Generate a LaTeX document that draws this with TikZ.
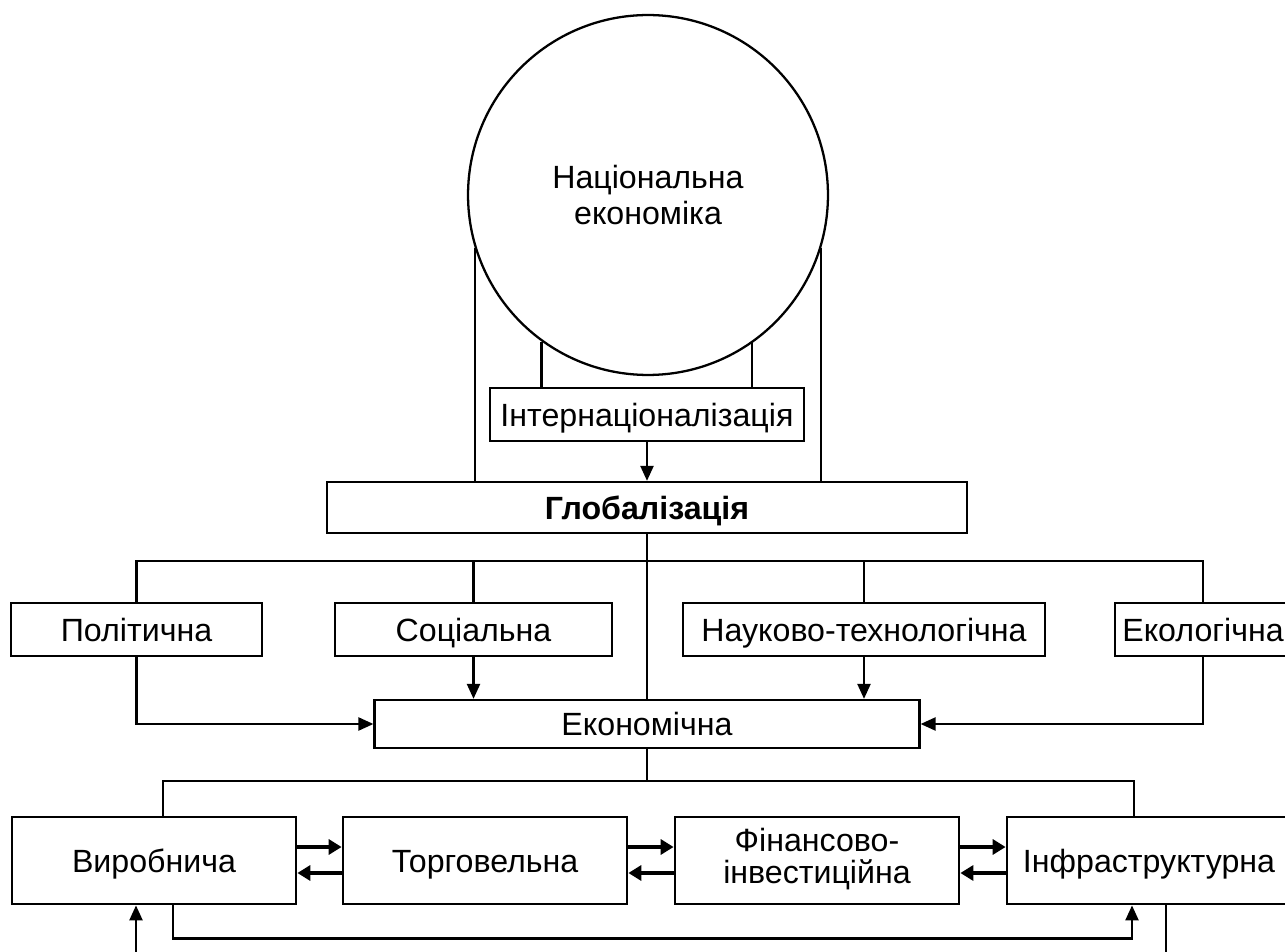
\documentclass[tikz,border=0pt]{standalone}
\usepackage{fontspec}
\setmainfont{Liberation Sans}
\usetikzlibrary{arrows.meta,positioning}

\begin{document}
\begin{tikzpicture}[x=0.02cm,y=-0.02cm,every node/.style={font=\fontsize{18.3}{21}\selectfont},box/.style={rectangle,draw=black,line width=1.3pt,inner sep=0pt,align=center,minimum height=1.06cm,text height=13.1pt,text depth=0pt},branch/.style={box,minimum width=5.68cm,minimum height=1.74cm,line width=1.6pt},link/.style={line width=1.3pt},arrow/.style={-{Triangle[length=0.3cm,width=0.26cm]},line width=1.3pt},flow/.style={-{Triangle[length=0.26cm,width=0.3cm]},line width=1.9pt}]
\useasboundingbox (0,0) rectangle (1285,952);
\node[circle,draw=black,line width=1.3pt,minimum size=7.2cm,inner sep=0pt,align=center](nat) at (648,195){Національна\\економіка};
\node[box,minimum width=6.28cm](intl) at (647,414.5){Інтернаціоналізація};
\node[box,minimum width=12.8cm,minimum height=1.02cm,font=\fontsize{18.3}{21}\selectfont\bfseries](glob) at (647,507.5){Глобалізація};
\node[box,minimum width=5.02cm](pol) at (136.5,629.5){Політична};
\node[box,minimum width=5.54cm](soc) at (473.5,629.5){Соціальна};
\node[box,minimum width=7.24cm](sci) at (864,629.5){Науково-технологічна};
\node[box,minimum width=3.52cm](eco) at (1203,629.5){Екологічна};
\node[box,minimum width=10.9cm,minimum height=0.96cm](econ) at (647,724){Економічна};
\node[branch](prod) at (154,860.5){Виробнича};
\node[branch](trade) at (485,860.5){Торговельна};
\node[branch,text height={},text depth={},execute at begin node=\strut,font=\fontsize{18.3}{18.3}\selectfont](fin) at (817,860.5){Фінансово-\\інвестиційна};
\node[branch](infra) at (1149,860.5){Інфраструктурна};
\coordinate(bus) at (647,561);\coordinate(bus2) at (647,781);\coordinate(inp) at (136,960);\coordinate(outp) at (1166,960);
\draw[link](nat.197)--(nat.197|-glob.north);\draw[link](nat.343)--(nat.343|-glob.north);\draw[link](nat.234)--(nat.234|-intl.north);\draw[link](nat.305)--(nat.305|-intl.north);
\draw[arrow](intl)--(glob);\draw[link](glob)--(econ);
\draw[link](pol.north)|-(bus)-|(eco.north);\draw[link](soc.north)--(soc.north|-bus);\draw[link](sci.north)--(sci.north|-bus);
\draw[arrow](soc.south)--(soc.south|-econ.north);\draw[arrow](sci.south)--(sci.south|-econ.north);\draw[arrow](pol.south)|-(econ.west);\draw[arrow](eco.south)|-(econ.east);
\draw[link](econ)--(bus2);\draw[link]([xshift=0.18cm]prod.north)|-(bus2)-|([xshift=-0.3cm]infra.north);
\draw[flow]([yshift=0.27cm]prod.east)--([yshift=0.27cm]trade.west);\draw[flow]([yshift=-0.25cm]trade.west)--([yshift=-0.25cm]prod.east);
\draw[flow]([yshift=0.27cm]trade.east)--([yshift=0.27cm]fin.west);\draw[flow]([yshift=-0.25cm]fin.west)--([yshift=-0.25cm]trade.east);
\draw[flow]([yshift=0.27cm]fin.east)--([yshift=0.27cm]infra.west);\draw[flow]([yshift=-0.25cm]infra.west)--([yshift=-0.25cm]fin.east);
\draw[arrow]([xshift=0.38cm]prod.south)--++(0,33)-|([xshift=-0.34cm]infra.south);
\draw[arrow](inp)--(inp|-prod.south);\draw[link](infra.south-|outp)--(outp);
\end{tikzpicture}
\end{document}
